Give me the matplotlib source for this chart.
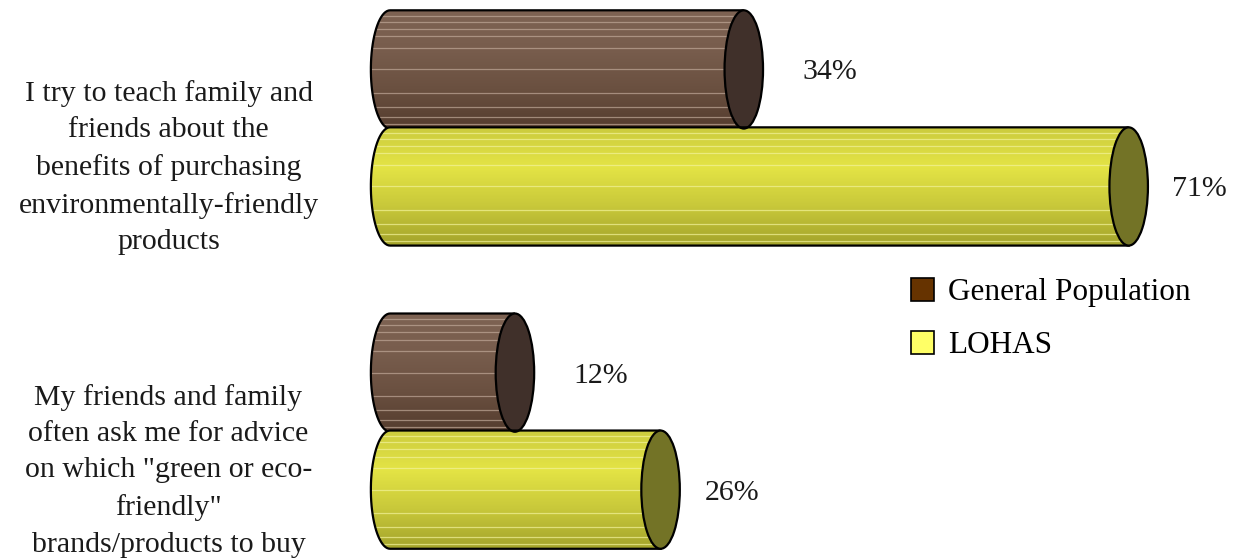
import numpy as np
import matplotlib.pyplot as plt
from matplotlib.patches import Ellipse, PathPatch, Patch
from matplotlib.path import Path
from matplotlib.colors import LinearSegmentedColormap

# Data
categories = [
    "I try to teach family and\nfriends about the\nbenefits of purchasing\nenvironmentally-friendly\nproducts",
    "My friends and family\noften ask me for advice\non which \"green or eco-\nfriendly\"\nbrands/products to buy",
]
series_names = ["General Population", "LOHAS"]
general_pop = [34, 12]
lohas = [71, 26]

# Styles
legend_colors = ["#663300", "#FFFF66"]
body_colors = [["#7e6353", "#785d4d", "#6a5040", "#543c2e"],
               ["#cbcb3e", "#e4e445", "#c8c83a", "#a3a32b"]]
cap_colors = ["#40302a", "#737326"]
stripe_colors = ["#c0a898", "#f2f29a"]
label_offset = [5.6, 4.2]
bar_offsets = [-0.193, 0.193]
bar_h = 0.39
rx = 1.85  # half width of the end ellipses in x units

plt.rcParams['font.family'] = ['Liberation Serif', 'DejaVu Serif']

fig = plt.figure(figsize=(12.4, 5.6), dpi=100)
ax = fig.add_axes([0, 0, 1, 1])


def cylinder(ax, value, yc, k):
    top, bot = yc - bar_h / 2, yc + bar_h / 2
    # outline: top-right -> left curve -> bottom-right
    t = np.linspace(-np.pi / 2, np.pi / 2, 40)
    curve = np.column_stack([-rx * np.cos(t), yc + (bar_h / 2) * np.sin(t)])
    verts = np.vstack([[[value, top]], curve, [[value, bot]], [[value, top]]])
    patch = PathPatch(Path(verts), facecolor='none', edgecolor='black', lw=1.6, zorder=3 + k)
    ax.add_patch(patch)
    cmap = LinearSegmentedColormap.from_list('b%d' % k, body_colors[k])
    im = ax.imshow(np.linspace(0, 1, 256).reshape(-1, 1), cmap=cmap, aspect='auto',
                   extent=(-rx, value, bot, top), origin='upper', zorder=2 + k)
    im.set_clip_path(patch)
    for f in [0.05, 0.1, 0.16, 0.22, 0.32, 0.5, 0.7, 0.82, 0.9, 0.96]:
        ln, = ax.plot([-rx, value - rx * 0.5], [top + f * bar_h] * 2,
                      color=stripe_colors[k], lw=0.9, alpha=0.7, zorder=2.5 + k)
        ln.set_clip_path(patch)
    ax.add_patch(Ellipse((value, yc), 2 * rx, bar_h, facecolor=cap_colors[k],
                         edgecolor='black', lw=1.6, zorder=3.5 + k))


for i, cat in enumerate(categories):
    for k, vals in enumerate([general_pop, lohas]):
        yc = i + bar_offsets[k]
        cylinder(ax, vals[i], yc, k)
        ax.text(vals[i] + label_offset[k], yc + 0.01, "%d%%" % vals[i], fontsize=21.5,
                ha='left', va='center', color='#1a1a1a')
    ax.text(-21.3, i + 0.13, cat, fontsize=21.5, ha='center', va='center',
            multialignment='center', linespacing=1.52, color='#1a1a1a')

ax.set_xlim(-37.5, 81.7)
ax.set_ylim(1.425, -0.422)
ax.axis('off')

handles = [Patch(facecolor=c, edgecolor='black', lw=1.2) for c in legend_colors]
fig.legend(handles, series_names, loc='upper left', bbox_to_anchor=(911 / 1240, 1 - 278 / 560),
           frameon=False, fontsize=22.5, handlelength=0.75, handleheight=0.75,
           handletextpad=0.45, labelspacing=0.75, borderaxespad=0, borderpad=0)

fig.savefig('out.png', dpi=100)
